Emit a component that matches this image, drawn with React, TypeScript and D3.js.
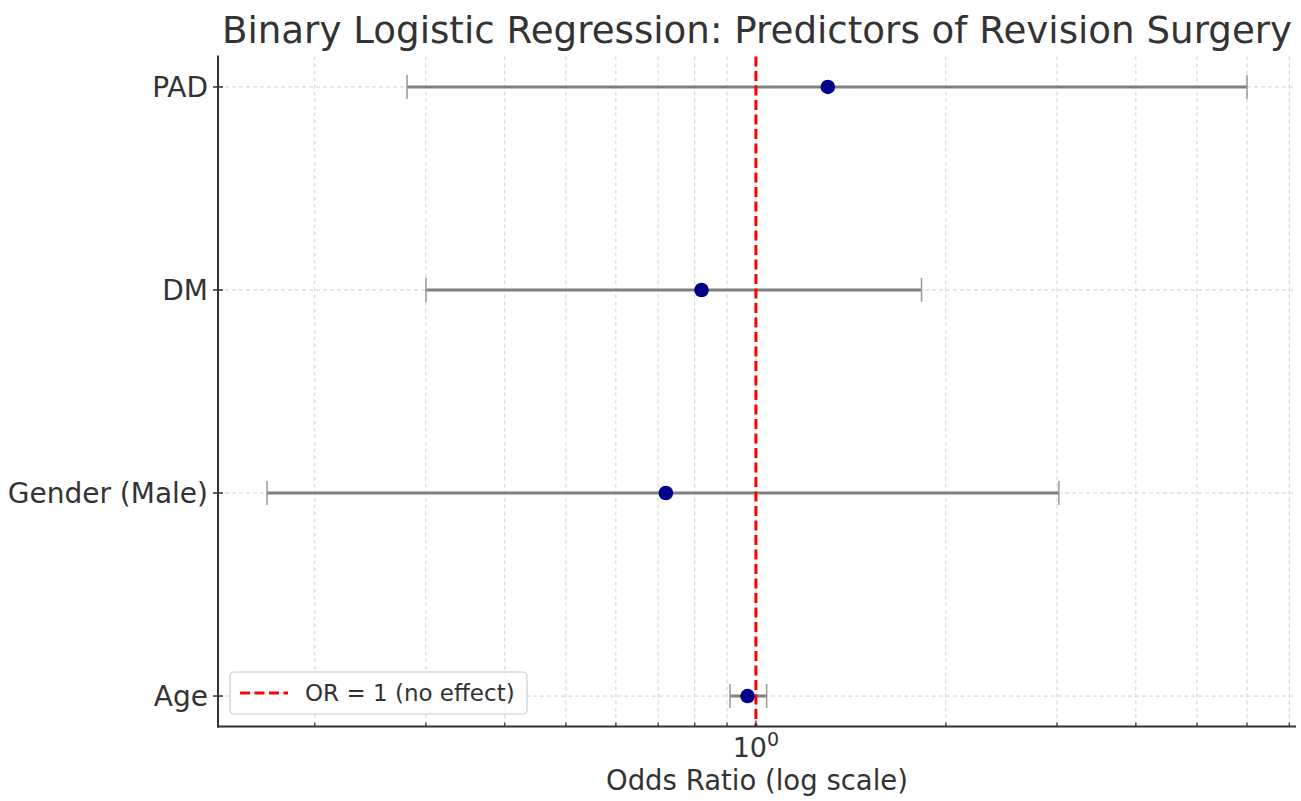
import { useRef, useEffect } from "react";
import * as d3 from "d3";

const W = 1301;
const H = 801;
const PLOT = { left: 218, right: 1296, top: 56.5, bottom: 726.5 };

const predictors = ["PAD", "DM", "Gender (Male)", "Age"];
const oddsRatio = [1.3, 0.82, 0.72, 0.97];
const ciLower = [0.28, 0.3, 0.168, 0.91];
const ciUpper = [6.0, 1.83, 3.02, 1.04];

const FONT = "DejaVu Sans, sans-serif";
const TEXT = "#333";

export default function App() {
  const svgRef = useRef<SVGSVGElement>(null);

  useEffect(() => {
    const svg = d3.select(svgRef.current);
    if (!svg.node()) return;
    svg.selectAll("*").remove();

    const rows = predictors.map((name, i) => ({
      name,
      or: oddsRatio[i],
      lo: ciLower[i],
      hi: ciUpper[i],
    }));

    // matplotlib-style 5% margin in log space
    const lmin = Math.log10(d3.min(ciLower)!);
    const lmax = Math.log10(d3.max(ciUpper)!);
    const m = (lmax - lmin) * 0.05;

    const x = d3
      .scaleLog()
      .domain([10 ** (lmin - m), 10 ** (lmax + m)])
      .range([PLOT.left, PLOT.right]);

    const y = d3
      .scalePoint<string>()
      .domain(predictors)
      .range([PLOT.top, PLOT.bottom])
      .padding(0.15);

    const ticks = x.ticks();

    // grid
    const grid = svg.append("g");
    grid
      .selectAll("line.gx")
      .data(ticks)
      .enter()
      .append("line")
      .attr("x1", (d) => x(d))
      .attr("x2", (d) => x(d))
      .attr("y1", PLOT.top)
      .attr("y2", PLOT.bottom)
      .attr("stroke", "#d0d0d0")
      .attr("stroke-width", 1)
      .attr("stroke-dasharray", "4,3");
    grid
      .selectAll("line.gy")
      .data(predictors)
      .enter()
      .append("line")
      .attr("x1", PLOT.left)
      .attr("x2", PLOT.right)
      .attr("y1", (d) => y(d)!)
      .attr("y2", (d) => y(d)!)
      .attr("stroke", "#d0d0d0")
      .attr("stroke-width", 1)
      .attr("stroke-dasharray", "4,3");

    // error bars
    const bars = svg.append("g");
    bars
      .selectAll("line.ci")
      .data(rows)
      .enter()
      .append("line")
      .attr("x1", (d) => x(d.lo))
      .attr("x2", (d) => x(d.hi))
      .attr("y1", (d) => y(d.name)!)
      .attr("y2", (d) => y(d.name)!)
      .attr("stroke", "#808080")
      .attr("stroke-width", 3);
    const caps = rows.flatMap((d) => [
      { name: d.name, v: d.lo },
      { name: d.name, v: d.hi },
    ]);
    bars
      .selectAll("line.cap")
      .data(caps)
      .enter()
      .append("line")
      .attr("x1", (d) => x(d.v))
      .attr("x2", (d) => x(d.v))
      .attr("y1", (d) => y(d.name)! - 12)
      .attr("y2", (d) => y(d.name)! + 12)
      .attr("stroke", "#999")
      .attr("stroke-width", 1.5);

    // reference line OR = 1
    svg
      .append("line")
      .attr("x1", x(1))
      .attr("x2", x(1))
      .attr("y1", PLOT.top)
      .attr("y2", PLOT.bottom)
      .attr("stroke", "red")
      .attr("stroke-width", 3)
      .attr("stroke-dasharray", "10,4.5");

    // points
    svg
      .append("g")
      .selectAll("circle")
      .data(rows)
      .enter()
      .append("circle")
      .attr("cx", (d) => x(d.or))
      .attr("cy", (d) => y(d.name)!)
      .attr("r", 7.3)
      .attr("fill", "#00008b");

    // axes spines
    svg
      .append("line")
      .attr("x1", PLOT.left)
      .attr("x2", PLOT.left)
      .attr("y1", PLOT.top - 1)
      .attr("y2", PLOT.bottom + 1)
      .attr("stroke", "#333")
      .attr("stroke-width", 2);
    svg
      .append("line")
      .attr("x1", PLOT.left - 1)
      .attr("x2", PLOT.right)
      .attr("y1", PLOT.bottom)
      .attr("y2", PLOT.bottom)
      .attr("stroke", "#333")
      .attr("stroke-width", 2);

    // x ticks
    svg
      .append("g")
      .selectAll("line")
      .data(ticks)
      .enter()
      .append("line")
      .attr("x1", (d) => x(d))
      .attr("x2", (d) => x(d))
      .attr("y1", PLOT.bottom)
      .attr("y2", (d) => PLOT.bottom - (d === 1 ? 6 : 4))
      .attr("stroke", "#333")
      .attr("stroke-width", 1.2);

    // y ticks and labels
    const yAxis = svg.append("g");
    yAxis
      .selectAll("line")
      .data(predictors)
      .enter()
      .append("line")
      .attr("x1", PLOT.left - 5)
      .attr("x2", PLOT.left + 5)
      .attr("y1", (d) => y(d)!)
      .attr("y2", (d) => y(d)!)
      .attr("stroke", "#333")
      .attr("stroke-width", 1.5);
    yAxis
      .selectAll("text")
      .data(predictors)
      .enter()
      .append("text")
      .attr("x", PLOT.left - 10)
      .attr("y", (d) => y(d)!)
      .attr("dy", "0.35em")
      .attr("text-anchor", "end")
      .attr("fill", TEXT)
      .style("font-family", FONT)
      .style("font-size", "28px")
      .text((d) => d);

    // 10^0 label
    const major = svg
      .append("text")
      .attr("x", x(1))
      .attr("y", PLOT.bottom + 30)
      .attr("text-anchor", "middle")
      .attr("fill", TEXT)
      .style("font-family", FONT)
      .style("font-size", "27px");
    major.append("tspan").text("10");
    major
      .append("tspan")
      .attr("dy", -11)
      .style("font-size", "19px")
      .text("0");

    // x label
    svg
      .append("text")
      .attr("x", (PLOT.left + PLOT.right) / 2)
      .attr("y", 790)
      .attr("text-anchor", "middle")
      .attr("fill", TEXT)
      .style("font-family", FONT)
      .style("font-size", "27.5px")
      .text("Odds Ratio (log scale)");

    // title
    svg
      .append("text")
      .attr("x", (PLOT.left + PLOT.right) / 2)
      .attr("y", 43)
      .attr("text-anchor", "middle")
      .attr("fill", TEXT)
      .style("font-family", FONT)
      .style("font-size", "37.2px")
      .text("Binary Logistic Regression: Predictors of Revision Surgery");

    // legend
    const lg = svg.append("g").attr("transform", "translate(230,672)");
    lg.append("rect")
      .attr("width", 297)
      .attr("height", 42)
      .attr("rx", 4)
      .attr("fill", "white")
      .attr("fill-opacity", 0.8)
      .attr("stroke", "#cccccc")
      .attr("stroke-width", 1.2);
    lg.append("line")
      .attr("x1", 10)
      .attr("x2", 58)
      .attr("y1", 21)
      .attr("y2", 21)
      .attr("stroke", "red")
      .attr("stroke-width", 3)
      .attr("stroke-dasharray", "10,4.5");
    lg.append("text")
      .attr("x", 75)
      .attr("y", 21)
      .attr("dy", "0.35em")
      .attr("fill", TEXT)
      .style("font-family", FONT)
      .style("font-size", "23px")
      .text("OR = 1 (no effect)");
  }, []);

  return (
    <svg
      ref={svgRef}
      width={W}
      height={H}
      style={{ position: "absolute", left: 0, top: 0, background: "white" }}
    />
  );
}
